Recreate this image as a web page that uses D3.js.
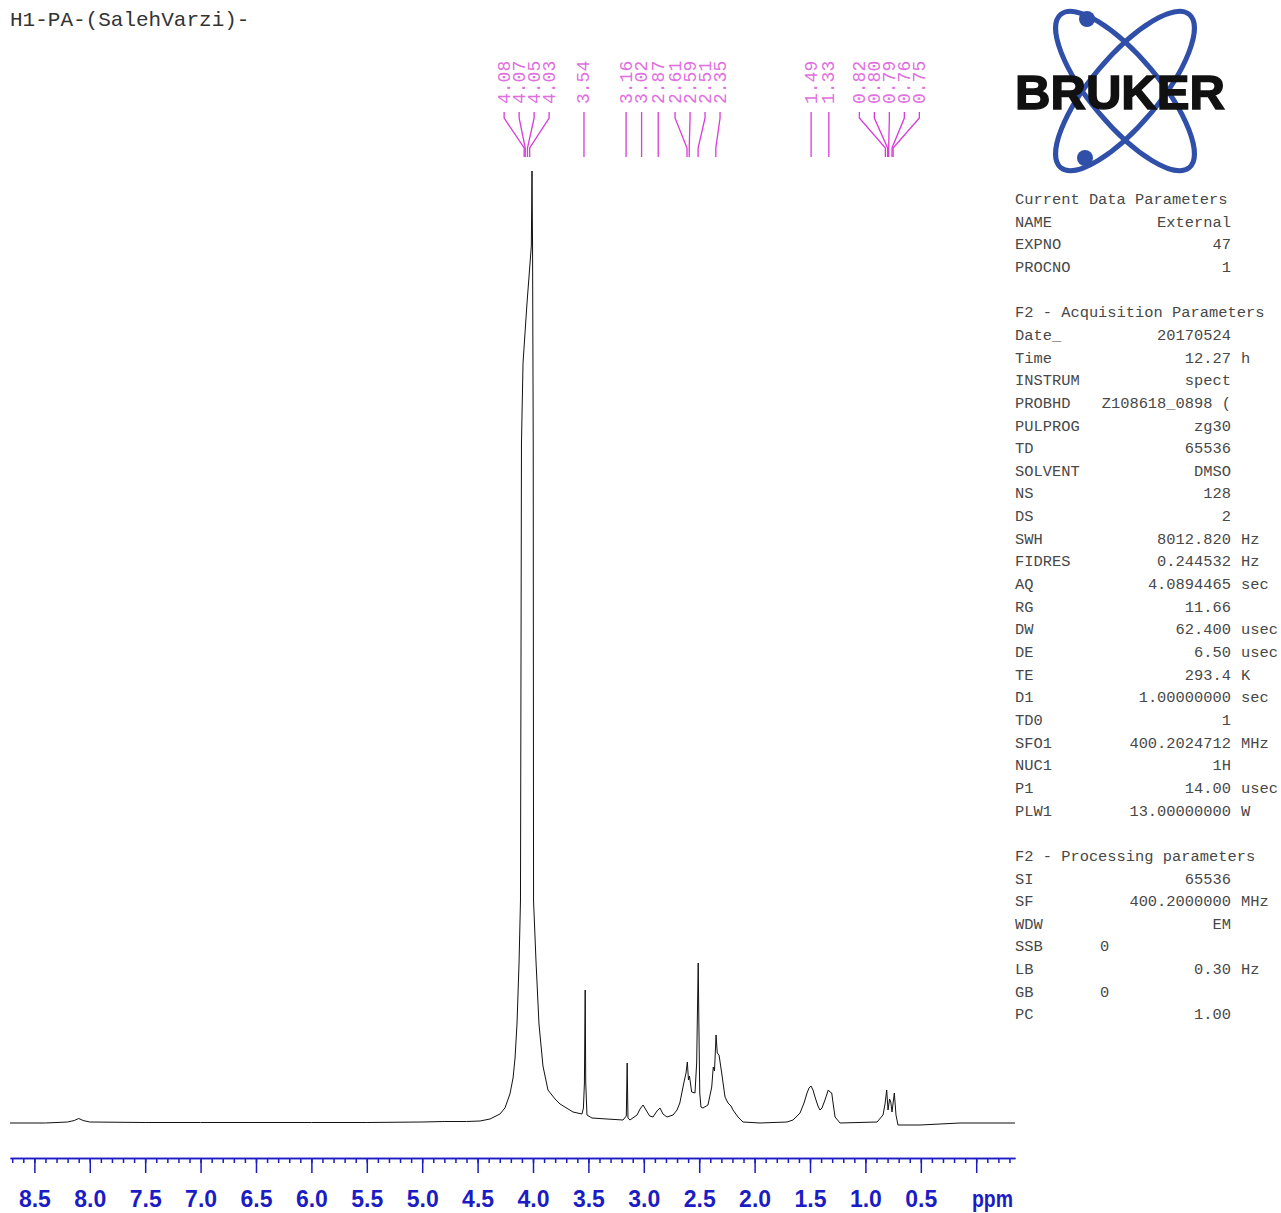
<!DOCTYPE html>
<html>
<head>
<meta charset="utf-8">
<script src="https://cdn.jsdelivr.net/npm/d3@7"></script>
<style>
  body { margin: 0; background: #fff; }
  svg { display: block; }
</style>
</head>
<body>
<svg id="vis"></svg>
<script>
var width = 1281;
var height = 1213;

var titleText = "H1-PA-(SalehVarzi)-";

// spectrum: [ppm, intensity]
var spectrum = [
  [8.72, 0], [8.40, 0], [8.20, 1], [8.14, 2.5], [8.10, 4.5], [8.06, 2.5], [8.00, 1],
  [7.50, 0.5], [7.00, 0.5], [6.50, 0.5], [6.00, 0.5], [5.50, 0.5], [5.00, 1],
  [4.80, 1.5], [4.60, 1.5], [4.478, 2], [4.388, 4], [4.298, 9], [4.253, 15],
  [4.208, 29], [4.180, 45], [4.162, 65], [4.144, 100], [4.126, 160], [4.113, 222],
  [4.104, 680], [4.090, 760], [4.054, 820], [4.015, 877], [4.009, 952], [4.004, 877],
  [3.998, 679], [3.995, 222], [3.973, 162], [3.946, 99], [3.910, 57], [3.865, 33],
  [3.801, 24], [3.756, 19], [3.639, 11], [3.558, 9], [3.545, 15], [3.536, 40],
  [3.529, 133], [3.524, 40], [3.513, 8], [3.468, 5], [3.332, 4], [3.188, 3],
  [3.158, 7], [3.150, 60], [3.143, 5], [3.125, 3], [3.061, 8], [3.034, 14],
  [3.007, 18], [2.980, 13], [2.947, 7], [2.917, 6], [2.881, 12], [2.854, 15],
  [2.827, 9], [2.791, 6], [2.736, 8], [2.700, 13], [2.675, 20], [2.639, 40],
  [2.619, 50], [2.607, 61], [2.597, 43], [2.588, 47], [2.568, 31], [2.538, 30],
  [2.523, 60], [2.516, 110], [2.509, 160], [2.502, 90], [2.495, 30], [2.484, 16],
  [2.466, 15], [2.421, 18], [2.387, 36], [2.373, 56], [2.362, 52], [2.348, 88],
  [2.337, 70], [2.321, 68], [2.297, 50], [2.267, 26], [2.240, 20], [2.213, 17],
  [2.195, 13], [2.150, 6], [2.105, 1], [1.951, 0], [1.708, 1], [1.653, 3],
  [1.590, 10], [1.554, 20], [1.527, 30], [1.509, 35], [1.491, 37], [1.473, 33],
  [1.455, 26], [1.428, 17], [1.410, 13], [1.392, 15], [1.365, 23], [1.335, 33],
  [1.319, 31], [1.304, 30], [1.292, 20], [1.274, 6], [1.229, 0], [0.895, 1],
  [0.841, 8], [0.823, 19], [0.808, 33], [0.796, 13], [0.782, 24], [0.771, 21],
  [0.760, 11], [0.739, 30], [0.724, 8], [0.706, -2], [0.507, -2], [0.146, 0],
  [-0.35, 0]
];

var peakLabels = [4.08, 4.07, 4.05, 4.03, 3.54, 3.16, 3.02, 2.87, 2.61, 2.59, 2.51, 2.35,
  1.49, 1.33, 0.82, 0.80, 0.79, 0.76, 0.75];

var majorTicks = [8.5, 8.0, 7.5, 7.0, 6.5, 6.0, 5.5, 5.0, 4.5, 4.0, 3.5, 3.0, 2.5, 2.0, 1.5, 1.0, 0.5, 0.0];
var axisUnit = "ppm";

var paramNames = ["Current Data Parameters", "NAME", "EXPNO", "PROCNO", "",
  "F2 - Acquisition Parameters", "Date_", "Time", "INSTRUM", "PROBHD", "PULPROG", "TD",
  "SOLVENT", "NS", "DS", "SWH", "FIDRES", "AQ", "RG", "DW", "DE", "TE", "D1", "TD0",
  "SFO1", "NUC1", "P1", "PLW1", "",
  "F2 - Processing parameters", "SI", "SF", "WDW", "SSB", "LB", "GB", "PC"];
var paramValues = ["", "External", "47", "1", "",
  "", "20170524", "12.27", "spect", "Z108618_0898 (", "zg30", "65536",
  "DMSO", "128", "2", "8012.820", "0.244532", "4.0894465", "11.66", "62.400", "6.50", "293.4", "1.00000000", "1",
  "400.2024712", "1H", "14.00", "13.00000000", "",
  "", "65536", "400.2000000", "EM", "0", "0.30", "0", "1.00"];
var paramUnits = ["", "", "", "", "",
  "", "", "h", "", "", "", "",
  "", "", "", "Hz", "Hz", "sec", "", "usec", "usec", "K", "sec", "",
  "MHz", "", "usec", "W", "",
  "", "", "MHz", "", "", "Hz", "", ""];

var svg = d3.select("#vis")
  .attr("width", width)
  .attr("height", height);

svg.append("rect").attr("width", width).attr("height", height).attr("fill", "#fff");

var x = d3.scaleLinear().domain([8.72, -0.35]).range([10, 1015]);
var y = d3.scaleLinear().domain([0, 1000]).range([1123, 123]);

var mono = "'Liberation Mono', 'DejaVu Sans Mono', monospace";

// title
svg.append("text")
  .attr("x", 10).attr("y", 26)
  .attr("font-family", mono)
  .attr("font-size", 21)
  .attr("fill", "#333")
  .text(titleText);

// spectrum trace
var line = d3.line()
  .x(function (d) { return x(d[0]); })
  .y(function (d) { return y(d[1]); });

svg.append("path")
  .datum(spectrum)
  .attr("d", line)
  .attr("fill", "none")
  .attr("stroke", "#111")
  .attr("stroke-width", 1);

// peak labels, spread so they don't overlap
var labelGap = 15;
var peaks = peakLabels.map(function (p) { return { ppm: p, px: x(p) }; })
  .sort(function (a, b) { return a.px - b.px; });

var clusters = [];
peaks.forEach(function (p) {
  clusters.push({ members: [p] });
  while (clusters.length > 1) {
    var cur = clusters[clusters.length - 1];
    var prev = clusters[clusters.length - 2];
    if (clusterEdge(prev, 1) + labelGap > clusterEdge(cur, -1)) {
      prev.members = prev.members.concat(cur.members);
      clusters.pop();
    } else break;
  }
});

function clusterCenter(c) {
  return d3.mean(c.members, function (m) { return m.px; });
}
function clusterEdge(c, side) {
  return clusterCenter(c) + side * (c.members.length - 1) / 2 * labelGap;
}

clusters.forEach(function (c) {
  var cx = clusterCenter(c);
  var n = c.members.length;
  c.members.forEach(function (m, i) {
    m.lx = cx + (i - (n - 1) / 2) * labelGap;
  });
});

var labelColor = "#d93ad9";
var gLabels = svg.append("g");

gLabels.selectAll("path.connector")
  .data(peaks)
  .enter().append("path")
  .attr("class", "connector")
  .attr("d", function (d) {
    return "M" + d.lx + ",112 L" + d.lx + ",118 L" + d.px + ",148 L" + d.px + ",157";
  })
  .attr("fill", "none")
  .attr("stroke", labelColor)
  .attr("stroke-width", 1.3);

gLabels.selectAll("text")
  .data(peaks)
  .enter().append("text")
  .attr("transform", function (d) { return "translate(" + (d.lx + 5.5) + ",104) rotate(-90)"; })
  .attr("font-family", mono)
  .attr("font-size", 18)
  .attr("fill", "#e070e0")
  .text(function (d) { return d.ppm.toFixed(2); });

// ppm axis
var axisColor = "#1c1cc4";
var gAxis = svg.append("g").attr("transform", "translate(0,1158)");

var minorTicks = d3.range(-3, 88).map(function (i) { return i / 10; });

gAxis.append("g")
  .call(d3.axisBottom(x).tickValues(minorTicks).tickSize(5).tickSizeOuter(0).tickFormat(""));

gAxis.append("g")
  .call(d3.axisBottom(x).tickValues(majorTicks).tickSize(15).tickSizeOuter(0)
    .tickFormat(function (d) { return d === 0 ? "" : d.toFixed(1); }));

gAxis.selectAll("path, line").attr("stroke", axisColor).attr("stroke-width", 1.5);
gAxis.selectAll("text")
  .attr("y", 49).attr("dy", 0)
  .attr("fill", axisColor)
  .attr("font-family", "'Liberation Sans', Arial, sans-serif")
  .attr("font-weight", "bold")
  .attr("font-size", 23);

gAxis.append("text")
  .attr("x", 1013).attr("y", 49)
  .attr("text-anchor", "end")
  .attr("fill", axisColor)
  .attr("font-family", "'Liberation Sans', Arial, sans-serif")
  .attr("font-weight", "bold")
  .attr("font-size", 23)
  .attr("textLength", 41)
  .attr("lengthAdjust", "spacingAndGlyphs")
  .text(axisUnit);

// Bruker logo
var logo = svg.append("g").attr("transform", "translate(1125,91)");
var logoBlue = "#2f4fa8";
[50, -50].forEach(function (a) {
  logo.append("ellipse")
    .attr("rx", 100).attr("ry", 34)
    .attr("transform", "rotate(" + a + ")")
    .attr("fill", "none")
    .attr("stroke", logoBlue)
    .attr("stroke-width", 5);
});
logo.append("circle").attr("cx", -38).attr("cy", -72).attr("r", 8).attr("fill", logoBlue);
logo.append("circle").attr("cx", -40).attr("cy", 67).attr("r", 8).attr("fill", logoBlue);
logo.append("text")
  .attr("x", -5).attr("y", 18)
  .attr("text-anchor", "middle")
  .attr("font-family", "'Liberation Sans', Arial, sans-serif")
  .attr("font-weight", "bold")
  .attr("font-size", 49)
  .attr("textLength", 210)
  .attr("lengthAdjust", "spacingAndGlyphs")
  .attr("fill", "#111")
  .attr("stroke", "#111")
  .attr("stroke-width", 1.5)
  .text("BRUKER");

// parameter listing
var rowH = 22.65;
var gParams = svg.append("g")
  .attr("font-family", mono)
  .attr("font-size", 15.4)
  .attr("fill", "#484848");

paramNames.forEach(function (name, i) {
  var yy = 204 + i * rowH;
  if (name) gParams.append("text").attr("x", 1015).attr("y", yy).text(name);
  var v = paramValues[i];
  if (v) {
    var leftAligned = (name === "SSB" || name === "GB");
    gParams.append("text")
      .attr("x", leftAligned ? 1100 : 1231)
      .attr("y", yy)
      .attr("text-anchor", leftAligned ? "start" : "end")
      .text(v);
  }
  if (paramUnits[i]) {
    gParams.append("text").attr("x", 1241).attr("y", yy).text(paramUnits[i]);
  }
});
</script>
</body>
</html>
